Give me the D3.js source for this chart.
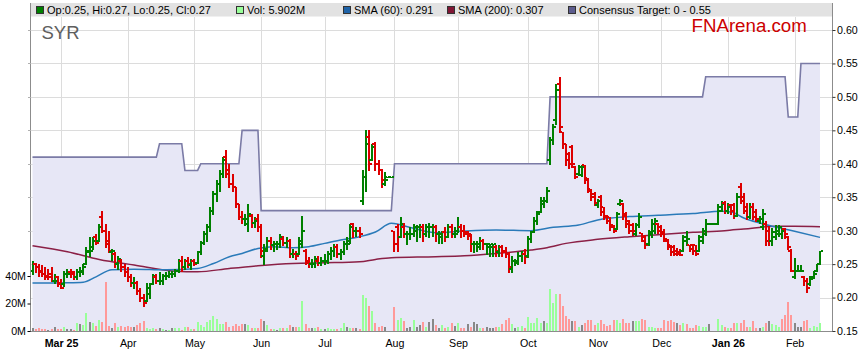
<!DOCTYPE html>
<html><head><meta charset="utf-8">
<script src="https://cdn.jsdelivr.net/npm/d3@7"></script>
<style>
html,body{margin:0;padding:0;background:#fff;}
svg{display:block;font-family:"Liberation Sans",Arial,sans-serif;}
</style></head><body>
<svg id="chart" width="859" height="363"></svg>
<script>
// ---------- DATA (one entry per trading day) ----------
const open = [
.240,.250,.245,.240,.235,.232,.235,.225,.230,.222,
.220,.235,.238,.238,.230,.238,.240,.250,.268,.275,
.290,.285,.320,.300,.285,.268,.265,.250,.255,.245,
.238,.230,.222,.222,.210,.200,.195,.205,.220,.230,
.225,.225,.232,.232,.235,.235,.240,.255,.245,.255,
.248,.255,.252,.268,.282,.295,.305,.330,.355,.370,
.385,.410,.390,.370,.365,.340,.320,.318,.310,.322,
.312,.318,.305,.262,.272,.285,.278,.280,.280,.288,
.282,.285,.265,.265,.265,.280,.270,.252,.250,.250,
.255,.252,.255,.255,.265,.270,.275,.265,.268,.280,
.285,.310,.300,.300,.345,.380,.440,.405,.430,.400,
.390,.370,.380,.380,.300,.305,.290,.305,.295,.295,
.295,.300,.305,.305,.295,.305,.305,.305,.295,.290,
.298,.290,.305,.295,.300,.305,.300,.298,.292,.280,
.280,.275,.285,.280,.275,.275,.275,.268,.275,.270,
.265,.242,.255,.252,.262,.265,.262,.288,.298,.315,
.328,.340,.345,.405,.435,.465,.520,.448,.430,.415,
.425,.395,.385,.383,.398,.378,.362,.355,.338,.350,
.335,.322,.320,.308,.303,.340,.340,.325,.315,.308,
.295,.308,.296,.290,.280,.295,.300,.310,.305,.298,
.285,.278,.275,.270,.268,.270,.285,.278,.278,.278,
.270,.285,.295,.310,.310,.310,.310,.330,.342,.330,
.338,.338,.322,.365,.350,.335,.320,.335,.328,.315,
.305,.310,.300,.285,.290,.295,.295,.302,.290,.270,
.230,.240,.240,.230,.225,.220,.230,.240,.250];
const high = [
.255,.252,.250,.248,.245,.242,.245,.235,.232,.228,
.240,.242,.242,.240,.242,.245,.250,.275,.290,.290,
.295,.310,.330,.310,.300,.272,.268,.262,.258,.250,
.245,.235,.230,.225,.215,.205,.222,.222,.235,.235,
.238,.235,.238,.240,.240,.242,.258,.262,.258,.260,
.258,.258,.270,.285,.300,.310,.335,.360,.375,.390,
.410,.420,.400,.385,.365,.340,.330,.325,.340,.325,
.320,.325,.310,.280,.290,.290,.285,.285,.295,.292,
.290,.288,.272,.270,.290,.322,.272,.260,.258,.262,
.262,.260,.265,.270,.275,.280,.280,.272,.285,.290,
.310,.312,.305,.305,.390,.450,.450,.430,.432,.405,
.392,.388,.380,.380,.300,.310,.320,.312,.300,.305,
.310,.308,.310,.310,.310,.312,.310,.308,.300,.300,
.305,.310,.310,.305,.320,.310,.308,.300,.295,.285,
.285,.290,.288,.282,.280,.280,.278,.278,.278,.275,
.268,.262,.258,.268,.270,.272,.292,.300,.320,.330,
.350,.350,.365,.440,.460,.520,.530,.448,.430,.418,
.428,.396,.398,.398,.398,.378,.363,.358,.348,.353,
.336,.323,.321,.308,.328,.348,.341,.328,.316,.311,
.311,.326,.296,.294,.301,.317,.319,.312,.309,.302,
.287,.279,.278,.274,.272,.294,.299,.279,.280,.279,
.294,.304,.317,.310,.310,.310,.340,.344,.344,.342,
.340,.342,.357,.372,.357,.342,.342,.342,.332,.322,
.332,.314,.307,.304,.309,.309,.304,.304,.292,.272,
.259,.249,.249,.232,.229,.232,.239,.250,.270];
const low = [
.235,.238,.232,.232,.228,.228,.225,.222,.218,.215,
.218,.230,.230,.228,.228,.232,.235,.250,.262,.272,
.280,.285,.298,.275,.268,.256,.245,.242,.240,.232,
.225,.218,.215,.205,.195,.188,.195,.200,.220,.222,
.220,.220,.228,.230,.230,.232,.238,.240,.242,.245,
.243,.248,.252,.265,.280,.285,.300,.325,.345,.360,
.380,.380,.365,.360,.335,.318,.312,.308,.300,.305,
.305,.300,.260,.250,.270,.272,.270,.272,.275,.278,
.275,.260,.260,.258,.265,.275,.250,.245,.245,.246,
.248,.248,.250,.252,.258,.262,.260,.258,.265,.272,
.282,.290,.292,.290,.340,.360,.390,.405,.390,.385,
.365,.368,.380,.380,.270,.270,.290,.290,.280,.288,
.292,.285,.290,.285,.292,.290,.292,.285,.282,.282,
.285,.290,.290,.290,.298,.290,.292,.288,.270,.268,
.270,.272,.272,.265,.262,.262,.262,.262,.262,.260,
.238,.238,.248,.250,.255,.252,.260,.283,.298,.310,
.328,.335,.343,.400,.430,.460,.448,.423,.398,.393,
.395,.378,.383,.381,.371,.358,.346,.338,.336,.323,
.318,.311,.301,.298,.303,.338,.318,.306,.296,.294,
.294,.306,.284,.274,.279,.291,.297,.297,.292,.284,
.272,.264,.264,.263,.263,.269,.279,.269,.265,.263,
.269,.282,.294,.310,.310,.310,.310,.329,.327,.327,
.325,.319,.322,.342,.327,.317,.319,.317,.314,.312,
.302,.279,.279,.279,.287,.292,.289,.289,.272,.239,
.229,.239,.239,.219,.208,.219,.229,.239,.250];
const close = [
.250,.245,.238,.235,.230,.230,.225,.225,.220,.215,
.235,.235,.235,.230,.238,.238,.245,.270,.270,.285,
.282,.305,.300,.280,.270,.270,.250,.258,.245,.238,
.230,.222,.222,.210,.200,.192,.215,.220,.232,.225,
.225,.232,.232,.235,.235,.240,.255,.245,.255,.250,
.255,.250,.268,.282,.295,.305,.330,.355,.370,.385,
.405,.385,.370,.365,.340,.320,.318,.318,.325,.312,
.315,.305,.270,.270,.285,.278,.280,.280,.290,.282,
.285,.265,.265,.262,.285,.300,.255,.250,.250,.258,
.252,.255,.255,.265,.270,.275,.265,.268,.280,.280,
.305,.300,.300,.295,.380,.430,.400,.425,.400,.390,
.375,.375,.380,.380,.280,.290,.310,.295,.295,.295,
.305,.305,.305,.295,.305,.305,.305,.295,.295,.298,
.290,.305,.295,.295,.305,.300,.295,.295,.280,.280,
.280,.285,.280,.280,.280,.280,.270,.275,.268,.265,
.245,.255,.255,.262,.265,.260,.288,.298,.315,.325,
.345,.345,.360,.435,.455,.510,.455,.430,.405,.400,
.400,.380,.395,.395,.375,.360,.350,.342,.345,.328,
.320,.315,.305,.300,.325,.345,.322,.310,.300,.300,
.308,.320,.285,.278,.298,.310,.315,.300,.295,.288,
.275,.268,.265,.265,.263,.290,.288,.272,.270,.265,
.290,.300,.310,.310,.310,.310,.335,.340,.330,.335,
.330,.322,.350,.345,.330,.320,.335,.320,.318,.318,
.325,.285,.285,.298,.300,.305,.300,.295,.275,.240,
.240,.240,.240,.225,.215,.228,.235,.250,.270];
// volume in millions of shares
const volume = [
1.9,1.2,2.4,1.7,1.2,0.7,1.7,2.9,1.7,1.2,
2.7,1.2,1.7,0.7,5.6,4.8,4.1,12.8,6.5,5.6,
3.6,8.0,6.5,35.6,3.6,1.9,5.6,3.2,3.6,3.2,
3.6,2.9,3.2,4.1,5.6,7.3,1.9,1.7,2.4,1.2,
1.9,1.2,0.4,0.4,1.9,1.9,1.9,0.5,2.9,2.9,
1.2,1.7,6.5,4.4,2.9,6.5,8.0,10.9,9.0,4.8,
4.8,6.5,3.2,3.6,4.8,3.6,4.8,4.8,4.4,2.4,
2.4,1.9,8.5,7.3,4.1,1.7,1.2,0.5,2.4,2.4,
1.9,4.1,3.2,3.2,3.2,21.8,4.8,1.9,1.9,1.9,
3.2,1.2,1.2,1.9,1.2,1.2,1.2,1.9,6.0,3.2,
1.9,1.9,1.9,1.5,26.0,23.8,18.2,14.5,5.6,2.9,
3.6,3.2,0,0,17.7,8.0,9.7,7.3,2.4,3.2,
8.0,3.2,4.1,6.5,3.2,6.5,8.5,4.1,1.9,4.1,
2.4,3.2,5.6,3.6,5.6,2.4,1.9,4.8,3.2,6.5,
4.8,1.9,2.4,3.2,2.4,1.9,3.2,3.2,4.8,7.8,
9.2,4.8,1.9,3.2,3.6,1.9,10.2,5.6,5.6,9.7,
5.6,7.3,6.0,30.3,20.6,26.7,26.7,18.2,10.9,8.5,
7.3,7.3,2.9,4.1,5.6,7.8,7.8,4.1,6.1,8.0,
4.8,3.6,4.6,7.8,7.8,6.1,8.5,6.1,5.6,7.3,
7.3,7.3,8.5,7.8,3.2,3.2,1.9,1.9,2.4,7.8,
7.3,7.8,6.5,5.6,4.4,5.6,4.8,1.9,2.4,4.1,
3.6,3.2,3.2,4.8,0,0,8.5,4.1,2.9,1.9,
2.4,5.6,5.6,5.6,7.8,3.2,2.9,7.3,2.4,1.9,
3.2,5.6,7.3,4.8,4.1,3.2,8.5,11.4,21.1,11.6,
5.6,2.9,2.9,7.3,7.8,1.9,3.6,2.9,5.902];

// moving averages, read at sample days
const sma60Days = [0,11,16,20,25,32,42,52,57,62,66,71,76,82,87,92,97,103,108,113,120,127,136,146,157,164,172,178,188,197,208,217,220,224,229,234,240,248];
const sma60Vals = [.2217,.2222,.223,.231,.2415,.2425,.2415,.2435,.251,.261,.266,.2735,.276,.2745,.276,.281,.286,.291,.298,.311,.3035,.297,.2995,.301,.300,.305,.3085,.316,.321,.323,.3255,.329,.328,.319,.3115,.3055,.299,.290];
const sma200Days = [0,11,21,32,45,52,62,71,82,92,103,108,113,127,136,146,157,162,168,178,188,197,208,218,224,234,240,248];
const sma200Vals = [.2775,.2686,.257,.2487,.2395,.2385,.2435,.2475,.251,.252,.2535,.257,.2595,.261,.2625,.266,.271,.2745,.281,.287,.291,.294,.2975,.30,.3025,.3065,.3065,.306];

// consensus target (step line)
const consDays = [0,39,40,47,48,52,53,65,66,71,72,113,114,162,163,211,212,237,238,241,242,248];
const consVals = [.41,.41,.43,.43,.39,.39,.40,.40,.45,.45,.33,.33,.40,.40,.50,.50,.53,.53,.47,.47,.55,.55];

// axes
const monthDays = [9,30,51,72,92,114,134,156,178,198,219,240];
const monthLabels = ["Mar 25","Apr","May","Jun","Jul","Aug","Sep","Oct","Nov","Dec","Jan 26","Feb"];
const priceTicks = [0.15,0.20,0.25,0.30,0.35,0.40,0.45,0.50,0.55,0.60];
const volTicks = [0,20,40];

const legendItems = [
  {label:"Op:0.25, Hi:0.27, Lo:0.25, Cl:0.27", color:"#008000", x:36},
  {label:"Vol: 5.902M", color:"#99ff99", x:236},
  {label:"SMA (60): 0.291", color:"#1f63a8", x:343},
  {label:"SMA (200): 0.307", color:"#801634", x:447},
  {label:"Consensus Target: 0 - 0.55", color:"#5c5c8e", x:568}
];

// ---------- DRAW ----------
const svg = d3.select("#chart");
const L=31, R=832, T=16.5, B=331;
const n = close.length;
const x = d3.scaleLinear().domain([0, n-1]).range([32.5, 820]);
const y = d3.scaleLinear().domain([0.15, 0.60]).range([331, 30]);
const yv = d3.scaleLinear().domain([0, 20]).range([331, 303.5]);

svg.append("rect").attr("width",859).attr("height",363).attr("fill","#fff");

// grid
const grid = svg.append("g").attr("stroke","#dcdcdc").attr("stroke-width",1).attr("shape-rendering","crispEdges");
priceTicks.filter(d=>d>0.15).forEach(t=>{
  grid.append("line").attr("x1",L).attr("x2",R).attr("y1",Math.round(y(t))+0.5).attr("y2",Math.round(y(t))+0.5);
});
monthDays.forEach(d=>{
  const xx = Math.round(x(d))+0.5;
  grid.append("line").attr("x1",xx).attr("x2",xx).attr("y1",T).attr("y2",B);
});

// consensus fill + line
const consData = consDays.map((d,i)=>({d, v:consVals[i]}));
svg.append("path").datum(consData)
  .attr("d", d3.area().x(p=>x(p.d)).y0(B).y1(p=>y(p.v)))
  .attr("fill","#e7e7f6");
svg.append("path").datum(consData)
  .attr("d", d3.line().x(p=>x(p.d)).y(p=>y(p.v)))
  .attr("fill","none").attr("stroke","#7b7ba6").attr("stroke-width",1.6);

// volume bars
function dir(i){ if(i===0) return 0; return close[i]>close[i-1]?1:(close[i]<close[i-1]?-1:0); }
svg.append("g").attr("shape-rendering","crispEdges").selectAll("rect").data(volume).join("rect")
  .attr("x",(v,i)=>Math.round(x(i))-1).attr("width",2)
  .attr("y",v=>yv(v)).attr("height",v=>B-yv(v))
  .attr("fill",(v,i)=>{const d=dir(i); return d>0?"#99ff99":(d<0?"#ff9999":"#888888");});

// SMA lines
const sma60 = sma60Days.map((d,i)=>({d,v:sma60Vals[i]}));
const sma200 = sma200Days.map((d,i)=>({d,v:sma200Vals[i]}));
const sline = d3.line().x(p=>x(p.d)).y(p=>y(p.v)).curve(d3.curveMonotoneX);
svg.append("path").datum(sma200).attr("d",sline).attr("fill","none").attr("stroke","#8b2046").attr("stroke-width",1.5);
svg.append("path").datum(sma60).attr("d",sline).attr("fill","none").attr("stroke","#2a7ab9").attr("stroke-width",1.5);

// OHLC bars
const bars = svg.append("g").attr("shape-rendering","crispEdges");
close.forEach((c,i)=>{
  const o=open[i], h=high[i], l=low[i];
  let up = c>o ? true : (c<o ? false : (i===0 || c>=close[i-1]));
  const col = up ? "#008000" : "#dd0000";
  const cx = Math.round(x(i));
  const yh = Math.round(y(h)), yl = Math.round(y(l));
  bars.append("rect").attr("x",cx-1).attr("y",yh).attr("width",2).attr("height",Math.max(1,yl-yh+1)).attr("fill",col);
  bars.append("rect").attr("x",cx-3).attr("y",Math.round(y(o))-1).attr("width",2).attr("height",2).attr("fill",col);
  bars.append("rect").attr("x",cx+1).attr("y",Math.round(y(c))-1).attr("width",2).attr("height",2).attr("fill",col);
});

// frame
const frame = svg.append("g").attr("stroke","#8c8c8c").attr("shape-rendering","crispEdges");
frame.append("line").attr("x1",30.5).attr("x2",30.5).attr("y1",3).attr("y2",331.5);
frame.append("line").attr("x1",832.5).attr("x2",832.5).attr("y1",3).attr("y2",331.5);
frame.append("line").attr("x1",30.5).attr("x2",832.5).attr("y1",331.5).attr("y2",331.5);

// right axis
const ra = svg.append("g").attr("transform","translate(832.5,0)")
  .call(d3.axisRight(y).tickValues(priceTicks).tickSize(3).tickPadding(1.5).tickFormat(d3.format(".2f")));
ra.select(".domain").remove();
ra.selectAll("text").attr("font-size","10.67px").attr("fill","#000").attr("font-family","Liberation Sans, Arial, sans-serif");
ra.selectAll("line").attr("stroke","#333");

// left (volume) axis
const la = svg.append("g").attr("transform","translate(30.5,0)")
  .call(d3.axisLeft(yv).tickValues(volTicks).tickSize(3).tickPadding(1.5).tickFormat(d=>d+"M"));
la.select(".domain").remove();
la.selectAll("text").attr("font-size","10.67px").attr("fill","#000").attr("font-family","Liberation Sans, Arial, sans-serif");
la.selectAll("line").attr("stroke","#000");
// faint left ticks at price grid levels
priceTicks.filter(d=>d>0.25).forEach(t=>{
  svg.append("line").attr("x1",27.5).attr("x2",30.5).attr("y1",Math.round(y(t))+0.5).attr("y2",Math.round(y(t))+0.5)
    .attr("stroke","#b0b0b0").attr("shape-rendering","crispEdges");
});

// bottom axis labels
const xa = svg.append("g").attr("transform","translate(0,331)")
  .call(d3.axisBottom(x).tickValues(monthDays).tickSize(0).tickPadding(8).tickFormat((d,i)=>monthLabels[i]));
xa.select(".domain").remove();
xa.selectAll("text").attr("font-size","10.67px").attr("fill","#000").attr("font-family","Liberation Sans, Arial, sans-serif")
  .attr("font-weight",(d,i)=>/\d/.test(monthLabels[i])?"bold":"normal");

// legend band
svg.append("rect").attr("x",31).attr("y",3).attr("width",801).attr("height",13.5).attr("fill","#e2e2e2");
const lg = svg.append("g");
legendItems.forEach(it=>{
  lg.append("rect").attr("x",it.x+0.5).attr("y",6.5).attr("width",7).attr("height",7)
    .attr("fill",it.color).attr("stroke","#333").attr("stroke-width",1).attr("shape-rendering","crispEdges");
  lg.append("text").attr("x",it.x+11).attr("y",14.3).attr("font-size","11px").attr("fill","#000").text(it.label);
});

// titles
svg.append("text").attr("x",41.5).attr("y",39).attr("font-size","18.5px").attr("fill","#5e5e5e").text("SYR");
svg.append("text").attr("x",691.5).attr("y",31.5).attr("font-size","18.7px").attr("fill","#cc0000").text("FNArena.com");
</script>
</body></html>
